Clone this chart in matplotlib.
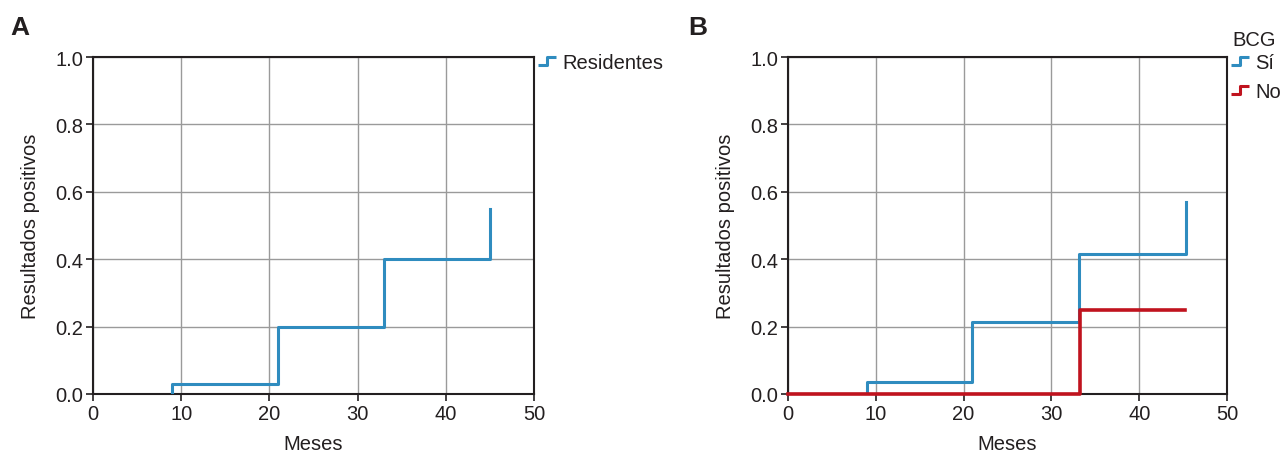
import matplotlib
matplotlib.use("Agg")
import matplotlib.pyplot as plt
from matplotlib.path import Path
from matplotlib.lines import Line2D

plt.rcParams["font.family"] = ["Liberation Sans Narrow", "Liberation Sans", "DejaVu Sans"]

# ── datos ─────────────────────────────────────────────
meses_res = [9, 21, 33, 45]
pos_res = [0.03, 0.20, 0.40, 0.55]

meses_si = [9, 21, 33.2, 45.3]
pos_si = [0.037, 0.215, 0.415, 0.57]

meses_no = [33.3, 45.2]
pos_no = [0.25, 0.25]

xticks = [0, 10, 20, 30, 40, 50]
yticks = [0.0, 0.2, 0.4, 0.6, 0.8, 1.0]

BLUE = "#2f8cbf"
RED = "#c0131e"
GRID = "#9a9a9a"
DARK = "#231f20"
FS = 14.5

# marcador en forma de escalón para la leyenda
STEP = Path([(-1.0, -0.4), (0.0, -0.4), (0.0, 0.4), (1.0, 0.4)],
            [Path.MOVETO, Path.LINETO, Path.LINETO, Path.LINETO])

W, H = 1282, 452
fig = plt.figure(figsize=(W / 100, H / 100), dpi=100)
fig.patch.set_facecolor("white")


def panel(left_px, right_px):
    ax = fig.add_axes([left_px / W, (H - 395) / H, (right_px - left_px) / W, 337 / H])
    ax.set_xlim(0, 50)
    ax.set_ylim(0, 1.0)
    ax.set_xticks(xticks)
    ax.set_yticks(yticks)
    ax.set_yticklabels([f"{v:.1f}" for v in yticks])
    ax.grid(True, color=GRID, lw=1.0)
    ax.set_axisbelow(True)
    for s in ax.spines.values():
        s.set_color(DARK)
        s.set_linewidth(1.5)
    ax.tick_params(direction="out", length=5, width=1.2, color=DARK,
                   labelsize=FS, labelcolor=DARK, pad=2)
    ax.set_xlabel("Meses", fontsize=FS, color=DARK, labelpad=8)
    ax.set_ylabel("Resultados positivos", fontsize=FS, color=DARK, labelpad=11)
    return ax


def handle(color):
    return Line2D([], [], ls="none", marker=STEP, markersize=13,
                  markeredgewidth=2.2, markeredgecolor=color, fillstyle="none")


def step_legend(ax, handles, labels):
    leg = ax.legend(handles, labels, loc="upper left",
                    bbox_to_anchor=(1.01, 1.012), frameon=False, fontsize=FS,
                    handlelength=0.9, handletextpad=0.3, borderaxespad=0,
                    borderpad=0, labelspacing=0.52)
    for t in leg.get_texts():
        t.set_color(DARK)
    return leg


# ── A ─────────────────────────────────────────────────
ax1 = panel(93, 534)
ax1.step([meses_res[0]] + meses_res, [0] + pos_res, where="post",
         color=BLUE, lw=2.2, zorder=3)
step_legend(ax1, [handle(BLUE)], ["Residentes"])

# ── B ─────────────────────────────────────────────────
ax2 = panel(788, 1227)
ax2.step([0] + meses_si, [0] + pos_si, where="post",
         color=BLUE, lw=2.2, zorder=3)
ax2.step([0] + meses_no, [0] + pos_no, where="post",
         color=RED, lw=2.6, zorder=4, clip_on=False)
step_legend(ax2, [handle(BLUE), handle(RED)], ["Sí", "No"])
fig.text(1276 / W, 1 - 40 / H, "BCG", fontsize=FS, color=DARK,
         ha="right", va="center")

# ── letras de panel ───────────────────────────────────
fig.text(10 / W, 1 - 28 / H, "A", fontsize=19, fontweight="bold",
         family=["Liberation Sans", "DejaVu Sans"], color=DARK, va="center")
fig.text(688 / W, 1 - 28 / H, "B", fontsize=19, fontweight="bold",
         family=["Liberation Sans", "DejaVu Sans"], color=DARK, va="center")

fig.savefig("out.png", dpi=100, facecolor="white")
